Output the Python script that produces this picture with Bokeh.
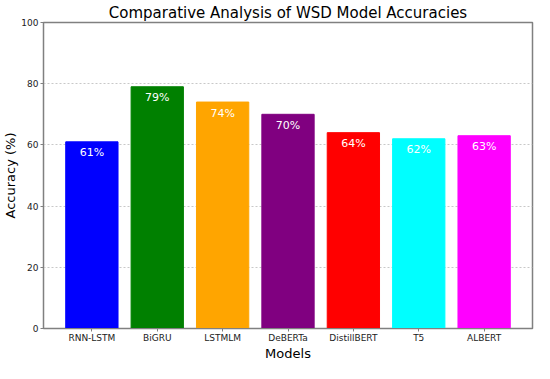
from bokeh.plotting import figure
from bokeh.models import ColumnDataSource, FixedTicker, Range1d
from bokeh.embed import file_html
from bokeh.resources import INLINE
from bokeh.core.properties import value

models = ["RNN-LSTM", "BiGRU", "LSTMLM", "DeBERTa", "DistillBERT", "T5", "ALBERT"]
accuracies = [61, 79, 74, 70, 64, 62, 63]
colors = ["blue", "green", "orange", "purple", "red", "cyan", "magenta"]
y_ticks = [0, 20, 40, 60, 80, 100]

xs = list(range(len(models)))
src = ColumnDataSource(dict(
    x=xs, top=accuracies, color=colors,
    label=[f"{v}%" for v in accuracies],
    ly=[v - 1.5 for v in accuracies],
))

p = figure(width=534, height=363, output_backend="svg", toolbar_location=None,
           x_range=Range1d(-0.74, len(models) - 1 + 0.74), y_range=Range1d(0, 100),
           title="Comparative Analysis of WSD Model Accuracies",
           min_border_left=0, min_border_right=2, min_border_top=0, min_border_bottom=0)

p.vbar(x="x", top="top", width=0.8, color="color", source=src)
p.text(x="x", y="ly", text="label", source=src, text_color="white",
       text_align="center", text_baseline="top", text_font_size="11px",
       text_font=value("DejaVu Sans"))

p.title.align = "center"
p.title.text_font = "DejaVu Sans"
p.title.text_font_size = "15px"
p.title.text_font_style = "normal"
p.title.text_color = "black"
p.title.standoff = 2

p.xaxis.ticker = FixedTicker(ticks=xs)
p.xaxis.major_label_overrides = {i: m for i, m in enumerate(models)}
p.yaxis.ticker = FixedTicker(ticks=y_ticks)
p.xaxis.axis_label = "Models"
p.yaxis.axis_label = "Accuracy (%)"
for ax in (p.xaxis[0], p.yaxis[0]):
    ax.axis_label_text_font = "DejaVu Sans"
    ax.axis_label_text_font_style = "normal"
    ax.axis_label_text_font_size = "13px"
    ax.axis_label_text_color = "black"
    ax.major_label_text_font = "DejaVu Sans"
    ax.major_label_text_font_size = "9px"
    ax.major_label_text_color = "#222222"
    ax.axis_line_color = "#808080"
    ax.major_tick_line_color = "#808080"
    ax.major_tick_out = 3
    ax.major_tick_in = 0
    ax.minor_tick_line_color = None
    ax.axis_label_standoff = 0
    ax.major_label_standoff = 2
p.xaxis[0].axis_label_standoff = 0
p.xaxis[0].major_label_standoff = 1

p.xgrid.grid_line_color = None
p.ygrid.grid_line_color = "#c8c8c8"
p.ygrid.grid_line_dash = "2 2"
p.outline_line_color = "#808080"
p.outline_line_width = 1.5

open("out.html", "w").write(file_html(p, INLINE))
